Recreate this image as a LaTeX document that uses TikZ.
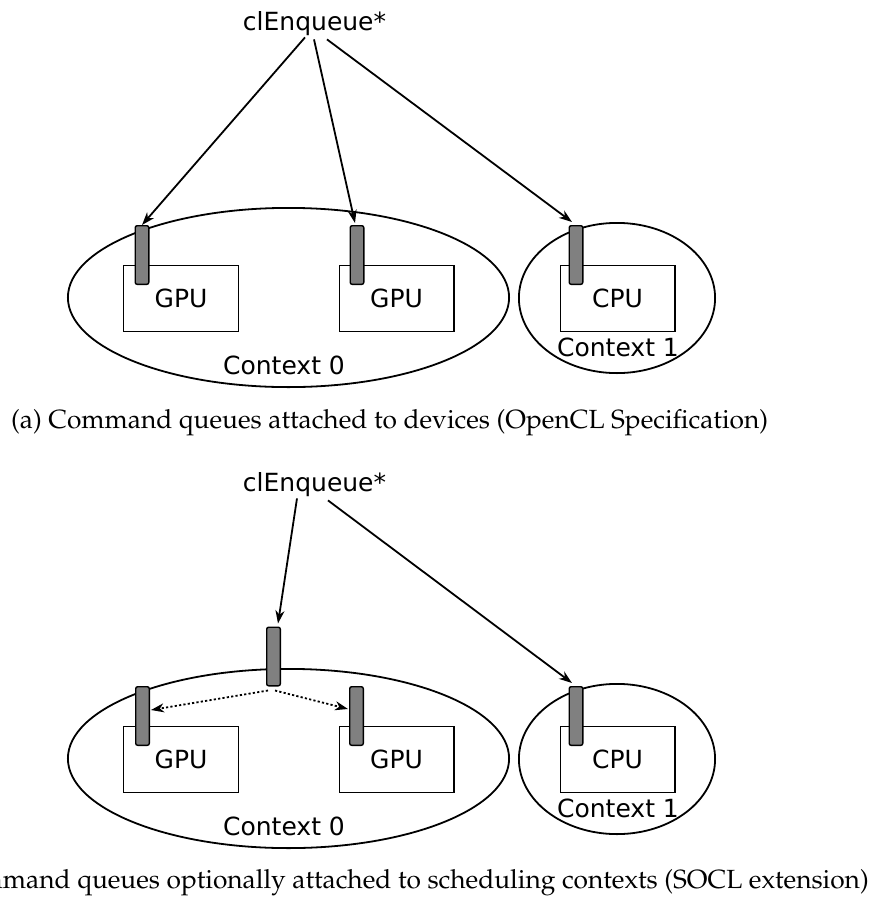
\documentclass[tikz,border=0pt]{standalone}
\usepackage[T1]{fontenc}
\usepackage{fontspec}
\setsansfont{DejaVu Sans}
\usetikzlibrary{arrows.meta,shapes.geometric}
\definecolor{qgray}{RGB}{128,128,128}
\newcommand\capfont{\fontencoding{T1}\fontfamily{ppl}\fontseries{m}\fontshape{n}\fontsize{26.3}{32}\selectfont}
\begin{document}
\begin{tikzpicture}[x=1pt,y=-1pt,
  lbl/.style={font=\sffamily\fontsize{25}{30}\selectfont, inner sep=0pt},
  dev/.style={lbl, draw, line width=1.4pt, minimum width=114.6pt, minimum height=65.6pt},
  ctx/.style={draw, ellipse, line width=1.8pt, inner sep=0pt},
  queue/.style={draw, fill=qgray, line width=1.4pt, rounded corners=2pt,
    minimum width=13.6pt, minimum height=58.6pt, inner sep=0pt},
  cmd/.style={-{Stealth[length=13pt,width=9pt,inset=4pt]}, line width=1.8pt},
  alt/.style={cmd, dash pattern=on 2.2pt off 2.2pt},
  captext/.style={font=\capfont, inner sep=0pt}]
\useasboundingbox (0,0) rectangle (879,898);
\clip (0,0) rectangle (879,898);

% ---- (a) queues bound to devices ----
\node[lbl, anchor=base] (cl) at (314.5,30) {clEnqueue*};
\node[ctx, minimum width=441.2pt, minimum height=179.2pt] (c0) at (288.5,297.5) {};
\node[ctx, minimum width=196.2pt, minimum height=150.2pt] (c1) at (617,298) {};
\node[dev] (g1) at (181,298.5) {GPU};
\node[dev] (g2) at (396.5,298.5) {GPU};
\node[dev] (p1) at (617.5,298.5) {CPU};
\node[lbl] (c0l) at (284,365.5) {Context 0};
\node[lbl] (c1l) at (618,347) {Context 1};
\node[queue] (q1) at (142,255) {};
\node[queue] (q2) at (357,255) {};
\node[queue] (q3) at (576,255) {};
\draw[cmd] ([xshift=-9.5pt,yshift=-2pt]cl.south) -- (q1.north);
\draw[cmd] ([xshift=-0.5pt,yshift=-4pt]cl.south) -- ([xshift=-2pt,yshift=2pt]q2.north);
\draw[cmd] ([xshift=12.5pt,yshift=-4pt]cl.south) -- ([xshift=-4pt,yshift=3pt]q3.north);
\node[captext, anchor=base west] (capa) at (11,428)
  {(a) Command queues attached to devices (OpenCL Specification)};

% ---- (b) queues bound to scheduling contexts ----
\node[lbl, anchor=base] (clb) at (314.5,491) {clEnqueue*};
\node[ctx, minimum width=441.2pt, minimum height=179.2pt] (c0b) at (288.5,758.5) {};
\node[ctx, minimum width=196.2pt, minimum height=150.2pt] (c1b) at (617,759) {};
\node[dev] (g1b) at (181,759.5) {GPU};
\node[dev] (g2b) at (396.5,759.5) {GPU};
\node[dev] (p1b) at (617.5,759.5) {CPU};
\node[lbl] (c0lb) at (284,826.5) {Context 0};
\node[lbl] (c1lb) at (618,808) {Context 1};
\node[queue] (qc) at (273.5,656.5) {};
\node[queue] (qb1) at (142.5,716) {};
\node[queue] (qb2) at (356.5,716) {};
\node[queue] (qb3) at (576,716) {};
\draw[cmd] ([xshift=-17.5pt,yshift=-2pt]clb.south) -- ([xshift=4.5pt,yshift=3pt]qc.north);
\draw[cmd] ([xshift=13.5pt,yshift=-4pt]clb.south) -- ([xshift=-4pt,yshift=3pt]qb3.north);
\draw[alt] ([xshift=-5.5pt,yshift=-4pt]qc.south) -- ([xshift=1pt,yshift=6pt]qb1.east);
\draw[alt] ([xshift=1.5pt,yshift=-4pt]qc.south) -- ([xshift=-1pt,yshift=7pt]qb2.west);
\node[captext, anchor=base east] (capb) at (869,888)
  {(b) Command queues optionally attached to scheduling contexts (SOCL extension)};
\end{tikzpicture}
\end{document}
